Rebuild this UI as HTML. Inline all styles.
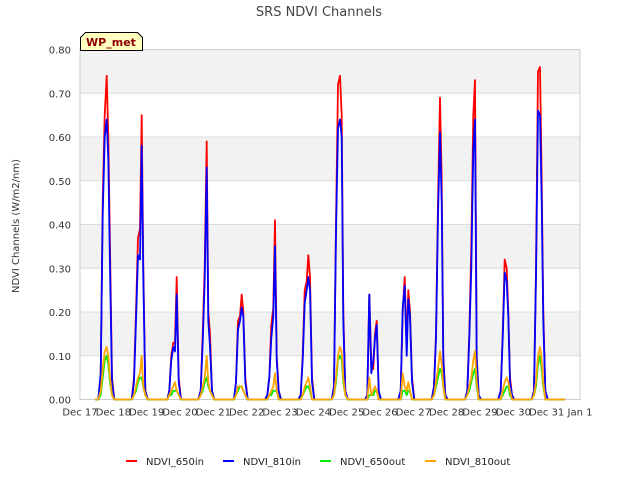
<!DOCTYPE html>
<html><head><meta charset="utf-8"><style>
body{margin:0;background:#fff;font-family:"DejaVu Sans","Liberation Sans",sans-serif;}
svg text{font-family:"DejaVu Sans","Liberation Sans",sans-serif;}
</style></head><body>
<svg id="c" width="640" height="480" viewBox="0 0 640 480" xmlns="http://www.w3.org/2000/svg">
<rect width="640" height="480" fill="#fff"/>
<text x="319" y="16" font-size="13" fill="#444" text-anchor="middle">SRS NDVI Channels</text>
<g id="plot"></g>
<text transform="translate(19,226) rotate(-90)" font-size="10" fill="#333" text-anchor="middle">NDVI Channels (W/m2/nm)</text>
<g>
<path d="M80.5,50.5 L80.5,37.5 L85.5,32.5 L137.5,32.5 L142.5,37.5 L142.5,50.5 Z" fill="#ffffc0" stroke="#000" stroke-width="1"/>
<text x="111" y="46" font-size="11" font-weight="bold" fill="#8b0000" text-anchor="middle">WP_met</text>
</g>
<g>
<g><line x1="126" y1="461" x2="137" y2="461" stroke="#f00" stroke-width="2"/><text x="146" y="465" font-size="10" fill="#222">NDVI_650in</text></g>
<g><line x1="223" y1="461" x2="234" y2="461" stroke="#00f" stroke-width="2"/><text x="243" y="465" font-size="10" fill="#222">NDVI_810in</text></g>
<g><line x1="320" y1="461" x2="331" y2="461" stroke="#0e0" stroke-width="2"/><text x="340" y="465" font-size="10" fill="#222">NDVI_650out</text></g>
<g><line x1="425" y1="461" x2="436" y2="461" stroke="#ffa500" stroke-width="2"/><text x="445" y="465" font-size="10" fill="#222">NDVI_810out</text></g>
</g>
</svg>
<script>
const xTickLabels=["Dec 17","Dec 18","Dec 19","Dec 20","Dec 21","Dec 22","Dec 23","Dec 24","Dec 25","Dec 26","Dec 27","Dec 28","Dec 29","Dec 30","Dec 31","Jan 1"];
const yTicks=[0,0.1,0.2,0.3,0.4,0.5,0.6,0.7,0.8];
const days=[0,1,2,3,4,5,6,7,8,9,10,11,12,13];
const offsets=[0.55,0.62,0.68,0.74,0.80,0.85,0.90,0.96,1.03];
const red650in=[
[0,0.05,0.45,0.65,0.74,0.6,0.35,0.05,0],
[0,0.05,0.2,0.37,0.39,0.65,0.3,0.02,0],
[0,0,0.02,0.1,0.13,0.13,0.28,0.05,0],
[0,0.02,0.15,0.3,0.59,0.2,0.15,0.02,0],
[0,0,0.04,0.18,0.19,0.24,0.2,0.05,0],
[0,0.01,0.05,0.17,0.21,0.41,0.1,0.02,0],
[0,0.01,0.1,0.25,0.27,0.33,0.28,0.05,0],
[0,0.03,0.4,0.72,0.74,0.65,0.2,0.02,0],
[0,0.01,0.24,0.08,0.07,0.15,0.18,0.02,0],
[0,0.02,0.2,0.28,0.12,0.25,0.2,0.05,0],
[0,0.03,0.15,0.45,0.69,0.5,0.1,0.01,0],
[0,0.02,0.15,0.35,0.65,0.73,0.1,0.01,0],
[0,0.02,0.15,0.32,0.3,0.2,0.05,0.01,0],
[0,0.02,0.3,0.75,0.76,0.5,0.2,0.02,0]];
const blue810in=[
[0,0.06,0.42,0.6,0.64,0.55,0.3,0.04,0],
[0,0.04,0.18,0.33,0.32,0.58,0.28,0.02,0],
[0,0,0.02,0.09,0.12,0.11,0.24,0.04,0],
[0,0.02,0.13,0.27,0.53,0.18,0.12,0.02,0],
[0,0,0.04,0.16,0.18,0.21,0.19,0.04,0],
[0,0.01,0.05,0.14,0.19,0.35,0.09,0.02,0],
[0,0.01,0.09,0.22,0.25,0.28,0.25,0.04,0],
[0,0.03,0.38,0.62,0.64,0.6,0.18,0.02,0],
[0,0.01,0.24,0.06,0.09,0.14,0.17,0.02,0],
[0,0.02,0.21,0.26,0.1,0.23,0.19,0.04,0],
[0,0.03,0.14,0.42,0.61,0.45,0.09,0.01,0],
[0,0.02,0.14,0.3,0.57,0.64,0.09,0.01,0],
[0,0.02,0.14,0.29,0.27,0.19,0.04,0.01,0],
[0,0.02,0.28,0.66,0.65,0.45,0.18,0.02,0]];
const green650out=[
[0,0.01,0.05,0.09,0.1,0.08,0.04,0.01,0],
[0,0.01,0.02,0.04,0.05,0.05,0.03,0.01,0],
[0,0,0.01,0.01,0.02,0.02,0.02,0.01,0],
[0,0.01,0.02,0.04,0.05,0.03,0.02,0.01,0],
[0,0,0.01,0.02,0.03,0.03,0.02,0.01,0],
[0,0,0.01,0.01,0.02,0.02,0.02,0,0],
[0,0,0.01,0.02,0.03,0.03,0.02,0,0],
[0,0.01,0.04,0.09,0.1,0.09,0.04,0.01,0],
[0,0,0.01,0.01,0.01,0.02,0.02,0,0],
[0,0,0.02,0.02,0.01,0.02,0.02,0,0],
[0,0.01,0.03,0.05,0.07,0.06,0.03,0,0],
[0,0.01,0.02,0.04,0.06,0.07,0.03,0,0],
[0,0,0.01,0.02,0.03,0.03,0.01,0,0],
[0,0.01,0.03,0.08,0.1,0.07,0.03,0,0]];
const orange810out=[
[0,0.02,0.07,0.11,0.12,0.1,0.05,0.01,0],
[0,0.01,0.03,0.05,0.06,0.1,0.03,0.01,0],
[0,0,0.01,0.02,0.03,0.04,0.02,0.01,0],
[0,0.01,0.03,0.05,0.1,0.04,0.02,0.01,0],
[0,0,0.01,0.03,0.03,0.03,0.02,0.01,0],
[0,0,0.01,0.02,0.03,0.06,0.02,0,0],
[0,0,0.01,0.03,0.04,0.05,0.03,0,0],
[0,0.01,0.05,0.1,0.12,0.11,0.05,0.01,0],
[0,0,0.05,0.01,0.02,0.03,0.02,0,0],
[0,0,0.06,0.03,0.02,0.04,0.02,0,0],
[0,0.01,0.04,0.07,0.11,0.08,0.03,0,0],
[0,0.01,0.03,0.05,0.09,0.11,0.04,0,0],
[0,0,0.02,0.04,0.05,0.04,0.02,0,0],
[0,0.01,0.04,0.1,0.12,0.09,0.04,0,0]];

const NS="http://www.w3.org/2000/svg";
const X0=80,X1=580,Y0=399.5,Y1=49.5;
const xs=d=>X0+(d/15)*(X1-X0);
const ys=v=>Y0-(v/0.8)*(Y0-Y1);
const plot=document.getElementById('plot');
function mk(tag,attrs,parent){const e=document.createElementNS(NS,tag);for(const k in attrs)e.setAttribute(k,attrs[k]);(parent||plot).appendChild(e);return e;}
// bands
for(let i=0;i<8;i++){
  if(i%2===1){
    const r=mk('rect',{x:X0,y:ys(yTicks[i+1]),width:X1-X0,height:ys(yTicks[i])-ys(yTicks[i+1]),fill:'#f2f2f2'});
    
    
  }
}
yTicks.forEach(v=>{
  const l=mk('line',{x1:X0,x2:X1,y1:ys(v),y2:ys(v),stroke:'#dcdcdc','stroke-width':1});
  
  
  const t=mk('text',{x:X0-9,y:ys(v)+4,'font-size':10,fill:'#333','text-anchor':'end'});
  t.textContent=v.toFixed(2);
  
  
});
const fr=mk('rect',{x:X0,y:Y1,width:X1-X0,height:Y0-Y1,fill:'none',stroke:'#ccc','stroke-width':1});


xTickLabels.forEach((s,i)=>{
  const t=mk('text',{x:xs(i),y:Y0+16,'font-size':10,fill:'#333','text-anchor':'middle'});
  t.textContent=s;
  
  
});
function series(data,color,name){
  let pts=[[xs(0.45),ys(0)]];
  days.forEach(d=>{offsets.forEach((o,j)=>pts.push([xs(d+o),ys(data[d][j])]));});
  pts.push([xs(14.55),ys(0)]);
  const p=mk('polyline',{points:pts.map(p=>p[0].toFixed(1)+','+p[1].toFixed(1)).join(' '),fill:'none',stroke:color,'stroke-width':1.8,'stroke-linejoin':'round'});
  
  
}
series(red650in,'#f00','series-ndvi-650in');
series(blue810in,'#00f','series-ndvi-810in');
series(green650out,'#0e0','series-ndvi-650out');
series(orange810out,'#ffa500','series-ndvi-810out');
</script>
</body></html>
